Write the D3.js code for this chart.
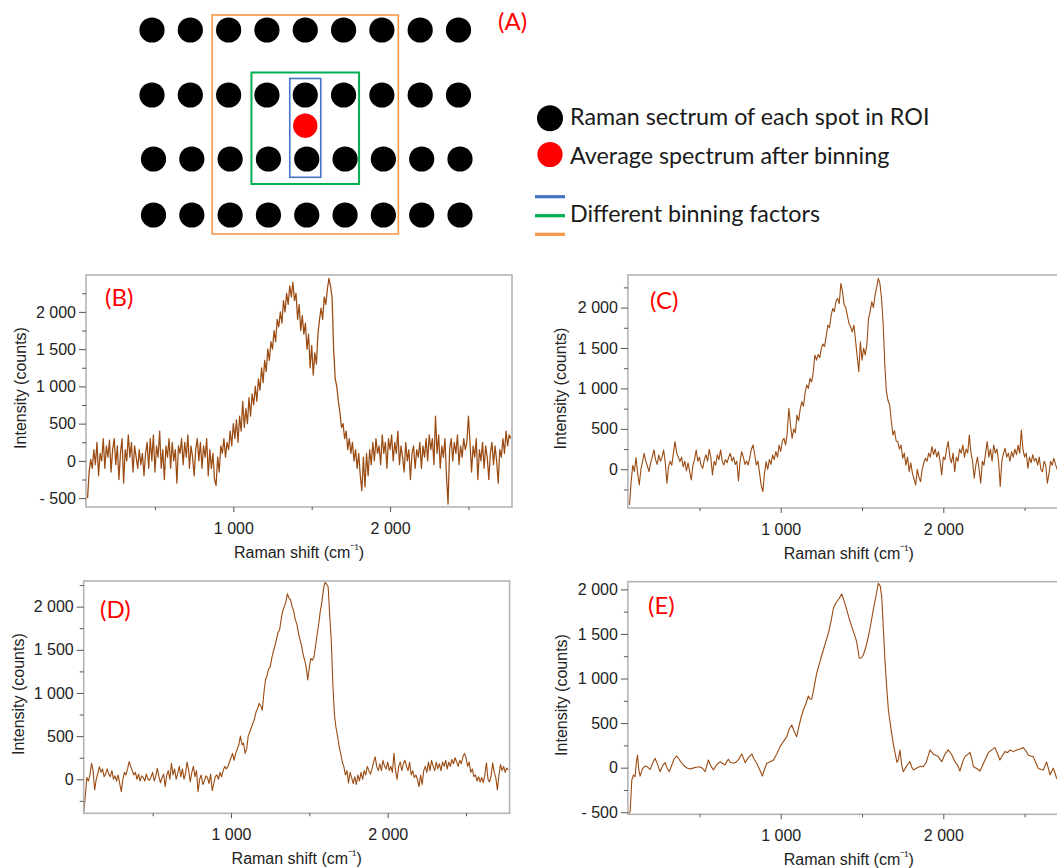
<!DOCTYPE html>
<html>
<head>
<meta charset="utf-8">
<script src="https://cdn.jsdelivr.net/npm/d3@7"></script>
<style>
  html, body { margin: 0; padding: 0; background: #fff; }
  svg { display: block; }
</style>
</head>
<body>
<svg id="fig" width="1057" height="868"></svg>
<script>
// ---------- Spectra: Raman intensity (counts) sampled on a regular shift grid ----------
// Binning factor 1 (single spot), start 70 cm-1, step 10 cm-1
const countsB = [
  -500,-150,20,-100,150,-50,250,-200,100,0,
  300,-100,200,50,280,-150,150,300,-50,200,
  -250,100,300,-300,150,0,350,50,250,-150,
  200,50,-100,150,-50,100,-200,100,250,-100,
  300,0,350,-150,200,50,400,-100,150,-250,
  200,50,300,-100,250,0,150,-300,200,100,
  300,-50,250,50,350,-100,200,50,-200,150,
  300,0,250,-100,200,50,300,-200,150,-100,
  100,-250,-330,50,-150,200,100,300,50,250,
  150,400,200,500,300,550,250,600,400,800,
  450,700,500,850,600,900,750,1000,800,1100,
  950,1250,1050,1350,1200,1500,1350,1600,1500,1750,
  1600,1900,1800,2000,1850,2150,2000,2250,2100,2350,
  2200,2400,2150,2250,1900,2100,1750,1950,1700,1850,
  1500,1700,1250,1550,1150,1450,1300,1700,1900,2050,
  1900,2200,2100,2300,2450,2350,2200,1500,1100,1000,
  800,650,450,500,300,400,150,300,100,250,
  0,150,-100,100,-200,-400,50,-350,100,-200,
  150,-50,250,0,300,100,200,-50,350,100,
  250,-100,300,150,350,0,250,100,400,-50,
  200,50,-150,250,0,150,-250,100,200,-100,
  150,50,250,-100,200,50,300,0,350,150,
  300,-50,600,100,350,-100,200,50,300,-200,
  -580,150,300,0,250,100,350,-50,200,50,
  300,150,250,600,250,-150,200,50,300,-250,
  150,0,250,-100,200,50,-250,100,250,-50,
  200,0,-300,150,50,300,100,400,200,350,300
];

// Small binning window, start 70 cm-1, step 10 cm-1
const countsC = [
  -440,-150,50,-30,144,-50,-194,0,95,198,
  100,40,-29,80,150,239,120,60,177,100,
  150,239,80,-173,30,100,50,200,342,200,
  150,95,150,30,100,-20,80,-30,-132,50,
  120,239,100,150,50,12,120,180,100,247,
  150,-70,100,50,180,120,239,100,54,120,
  80,150,198,100,150,60,100,-144,100,218,
  150,60,100,54,150,250,300,180,54,100,
  -50,-200,-276,-50,95,0,120,60,177,120,
  220,150,300,220,350,383,300,450,754,550,
  383,500,450,671,600,750,836,780,950,1042,
  1000,1124,1080,1200,1413,1350,1420,1380,1495,1550,
  1520,1650,1784,1750,1900,1990,1950,2080,2113,2050,
  2299,2200,2031,2000,1900,1800,1763,1700,1784,1600,
  1400,1207,1578,1350,1500,1413,1550,1866,1950,2072,
  2000,2150,2250,2361,2300,2113,1800,1300,960,850,
  795,600,424,480,350,342,250,300,136,200,
  50,150,-29,80,-50,-120,-194,0,-100,-152,
  0,80,136,100,200,150,280,180,250,150,
  218,100,-70,150,120,250,342,150,80,200,
  -29,150,100,250,200,300,150,250,200,424,
  200,100,-111,50,150,0,-173,100,50,200,
  342,150,250,100,300,200,250,100,-214,100,
  200,260,150,200,100,218,150,250,180,300,
  200,486,250,150,200,12,150,80,180,100,
  136,50,150,0,-29,100,50,-173,-50,100,
  50,136,60,0,80,0
];

// Medium binning window, start 60 cm-1, step 10 cm-1
const countsD = [
  -390,-200,20,-20,50,185,100,-123,0,70,
  146,80,120,30,60,120,60,30,100,0,
  40,-20,50,-50,-143,0,80,50,120,205,
  150,100,50,80,0,60,-20,40,20,-20,
  60,0,-10,30,80,-20,40,127,30,-40,
  20,60,-85,50,100,0,185,50,120,0,
  70,150,30,120,0,70,200,100,-30,80,
  150,30,100,-143,0,50,-60,-20,40,20,
  -50,60,-130,-50,30,50,0,80,30,100,
  150,120,146,200,250,300,220,300,350,400,
  500,400,420,300,350,500,550,600,650,700,
  780,820,880,850,800,1000,1150,1200,1280,1300,
  1400,1480,1540,1620,1700,1730,1850,1950,2000,2050,
  2150,2100,2080,2000,1950,1850,1800,1700,1620,1550,
  1450,1380,1300,1150,1300,1400,1380,1420,1550,1680,
  1800,1950,2050,2200,2280,2260,2230,1900,1600,1100,
  750,600,500,380,300,200,150,50,100,-46,
  80,20,-50,30,-60,50,-20,80,0,100,
  50,150,100,60,120,200,260,150,100,180,
  100,220,150,120,200,100,150,80,300,100,
  0,150,200,100,180,220,150,100,200,50,
  100,20,50,0,-85,50,-60,100,150,80,
  200,100,220,150,100,200,120,180,100,200,
  150,220,120,200,150,230,180,250,200,150,
  220,180,260,300,250,150,200,80,120,30,
  50,-20,30,-30,20,-40,50,190,0,-30,
  40,190,80,20,-123,50,170,100,150,80,130,110
];

// Largest binning window, read point by point
const shiftE = [
  63,74,84,94,104,112,119,127,135,150,166,180,197,212,227,242,258,273,289,300,
  315,330,345,361,380,401,420,442,460,480,504,520,535,545,555,570,586,605,627,640,
  658,668,678,690,709,725,740,760,770,781,800,822,835,852,870,887,900,914,930,955,
  975,996,1015,1037,1052,1068,1080,1098,1110,1125,1139,1155,1170,1180,1190,1205,1221,1240,1262,1278,
  1293,1310,1324,1340,1360,1375,1390,1406,1420,1437,1452,1467,1483,1495,1508,1523,1539,1555,1569,1585,
  1600,1612,1621,1630,1641,1650,1662,1677,1692,1705,1715,1723,1733,1745,1754,1775,1795,1805,1816,1840,
  1860,1877,1895,1918,1940,1969,1990,2010,2031,2050,2072,2090,2102,2118,2133,2150,2164,2175,2185,2205,
  2226,2250,2277,2298,2318,2335,2348,2362,2379,2395,2410,2430,2451,2470,2492,2508,2522,2538,2553,2568,
  2584,2600,2615,2635,2645,2656,2666,2676,2687,2697,2720
];
const countsE = [
  -520,-494,-138,-82,-100,60,142,-20,-94,-10,19,10,-19,50,105,40,-45,20,56,0,
  -45,30,100,131,80,30,0,-15,-5,5,11,-10,-45,20,86,20,-26,30,67,50,
  30,70,94,60,49,60,90,153,110,56,110,153,100,49,-20,-94,-20,49,60,86,
  150,236,290,348,430,479,420,348,450,560,647,720,804,770,767,900,1058,1180,1320,1420,
  1507,1650,1788,1850,1900,1949,1870,1769,1680,1582,1500,1414,1227,1230,1264,1350,1470,1620,1769,1920,
  2068,2040,1919,1600,1208,950,647,450,273,150,60,86,198,20,-45,20,67,10,-26,0,
  15,11,60,199,150,124,67,150,199,150,67,20,-37,60,124,150,172,100,11,-10,
  -37,60,168,200,225,150,86,130,180,170,199,180,199,210,225,190,142,130,124,60,
  -7,-20,-26,64,0,-82,-40,-7,-60,-119,-130
];

// Axis ticks (Raman shift in cm-1, intensity in counts)
const shiftTicksMajor = [1000, 2000];
const shiftTicksMinor = [500, 1500, 2500];
const countTicks = [-500, -250, 0, 250, 500, 750, 1000, 1250, 1500, 1750, 2000, 2250, 2500];

// ---------- Binning schematic ----------
const gridCols = [0, 1, 2, 3, 4, 5, 6, 7, 8];
const gridRows = [0, 1, 2, 3];
const binWindows = [
  { name: "large",  cols: [2, 6], rows: [0, 3], color: "#f79646" },
  { name: "medium", cols: [3, 5], rows: [1, 2], color: "#00b050" },
  { name: "small",  cols: [4, 4], rows: [1, 2], color: "#4472c4" }
];
const averagedSpot = { col: 4, row: 1.5 };
const legendItems = [
  "Raman sectrum of each spot in ROI",
  "Average spectrum after binning",
  "Different binning factors"
];

// ---------- Drawing ----------
const svg = d3.select("#fig");
const axisFont = "'Liberation Sans', Arial, sans-serif";
const labelFont = "Lato, 'Open Sans', sans-serif";
const lineColor = "#9a4b12";

const fmt = d3.formatLocale({
  decimal: ".", thousands: " ", grouping: [3], currency: ["", ""], minus: "- "
}).format(",d");

const panels = [
  { tag: "(B)", values: countsB, start: 70, step: 10, width: 1.25,
    box: { x0: 86, x1: 512, y0: 275, y1: 507 }, yDom: [-619, 2495],
    tagAt: [105, 306], ytitleX: 25.5 },
  { tag: "(C)", values: countsC, start: 70, step: 10, width: 1.1,
    box: { x0: 627.9, x1: 1069.8, y0: 275, y1: 508 }, yDom: [-479, 2403],
    tagAt: [650, 309], ytitleX: 566 },
  { tag: "(D)", values: countsD, start: 60, step: 10, width: 1.1,
    box: { x0: 83.7, x1: 509.6, y0: 581, y1: 813.3 }, yDom: [-394, 2297],
    tagAt: [100, 618], ytitleX: 24 },
  { tag: "(E)", shifts: shiftE, values: countsE, width: 1.1,
    box: { x0: 627.9, x1: 1069.8, y0: 581.7, y1: 814.3 }, yDom: [-523, 2086],
    tagAt: [648, 614], ytitleX: 566.5 }
];

const shiftDomain = [60, 2778];

panels.forEach((p, pi) => {
  const b = p.box;
  const x = d3.scaleLinear().domain(shiftDomain).range([b.x0, b.x1]);
  const y = d3.scaleLinear().domain(p.yDom).range([b.y1, b.y0]);
  const g = svg.append("g");

  const pts = p.values.map((v, i) => [p.shifts ? p.shifts[i] : p.start + i * p.step, v]);

  const clipId = "clip" + pi;
  g.append("clipPath").attr("id", clipId)
    .append("rect").attr("x", b.x0).attr("y", b.y0)
    .attr("width", b.x1 - b.x0).attr("height", b.y1 - b.y0);

  g.append("path")
    .datum(pts)
    .attr("clip-path", `url(#${clipId})`)
    .attr("fill", "none")
    .attr("stroke", lineColor)
    .attr("stroke-width", p.width)
    .attr("stroke-linejoin", "round")
    .attr("d", d3.line().x(d => x(d[0])).y(d => y(d[1])));

  // frame
  g.append("rect")
    .attr("x", b.x0).attr("y", b.y0)
    .attr("width", b.x1 - b.x0).attr("height", b.y1 - b.y0)
    .attr("fill", "none").attr("stroke", "#b4b4b4").attr("stroke-width", 1.6);

  const inY = countTicks.filter(v => v >= p.yDom[0] && v <= p.yDom[1]);
  const majY = inY.filter(v => v % 500 === 0);
  const minY = inY.filter(v => v % 500 !== 0);

  const styleAxis = sel => {
    sel.attr("font-size", 16).attr("font-family", axisFont);
    sel.select(".domain").remove();
    sel.selectAll("line").attr("stroke", "#555").attr("stroke-width", 1);
    sel.selectAll("text").attr("font-family", axisFont).attr("font-size", 16).attr("fill", "#222");
  };

  g.append("g").attr("transform", `translate(${b.x0},0)`)
    .call(d3.axisLeft(y).tickValues(minY).tickSize(4).tickFormat(""))
    .call(styleAxis);
  g.append("g").attr("transform", `translate(${b.x0},0)`)
    .call(d3.axisLeft(y).tickValues(majY).tickSize(7).tickPadding(3).tickFormat(fmt))
    .call(styleAxis);

  g.append("g").attr("transform", `translate(0,${b.y1})`)
    .call(d3.axisBottom(x).tickValues(shiftTicksMinor).tickSize(3).tickFormat(""))
    .call(styleAxis);
  g.append("g").attr("transform", `translate(0,${b.y1})`)
    .call(d3.axisBottom(x).tickValues(shiftTicksMajor).tickSize(5).tickPadding(10.6).tickFormat(fmt))
    .call(styleAxis);

  // axis titles
  const xt = g.append("text")
    .attr("x", (b.x0 + b.x1) / 2).attr("y", b.y1 + 51)
    .attr("text-anchor", "middle")
    .attr("font-family", axisFont).attr("font-size", 16).attr("fill", "#222");
  xt.append("tspan").text("Raman shift (cm");
  xt.append("tspan").text("\u207B\u00B9").attr("font-size", 13).attr("dy", -5);
  xt.append("tspan").text(")").attr("dy", 5);

  g.append("text")
    .attr("transform", `translate(${p.ytitleX},${(b.y0 + b.y1) / 2 - 3}) rotate(-90)`)
    .attr("text-anchor", "middle")
    .attr("font-family", axisFont).attr("font-size", 16).attr("fill", "#222")
    .text("Intensity (counts)");

  g.append("text")
    .attr("x", p.tagAt[0]).attr("y", p.tagAt[1])
    .attr("font-family", labelFont).attr("font-size", 24).attr("fill", "#ff0000")
    .text(p.tag);
});

// ---------- Panel (A): spot grid with binning windows ----------
const colX = d3.scalePoint().domain(gridCols).range([152, 458.5]);
const rowY = d3.scaleLinear().domain([0, 1, 2, 3]).range([30, 95, 159, 215]);
const rowShift = r => (r >= 2 ? 1.5 : 0);
const spotR = 12.6;

const ga = svg.append("g");

const pads = { large: [16.5, 15, 19], medium: [15.5, 22.5, 25], small: [15.5, 16.5, 18.3] };
binWindows.forEach(w => {
  const [px, pt, pb] = pads[w.name];
  const x0 = colX(w.cols[0]) - px, x1 = colX(w.cols[1]) + px;
  const y0 = rowY(w.rows[0]) - pt, y1 = rowY(w.rows[1]) + pb;
  ga.append("rect")
    .attr("x", x0).attr("y", y0).attr("width", x1 - x0).attr("height", y1 - y0)
    .attr("fill", "none").attr("stroke", w.color)
    .attr("stroke-width", w.name === "medium" ? 2 : 1.6);
});

const spots = [];
gridRows.forEach(r => gridCols.forEach(c => spots.push({ r, c })));
ga.selectAll("circle.spot").data(spots).join("circle")
  .attr("class", "spot")
  .attr("cx", d => colX(d.c) + rowShift(d.r))
  .attr("cy", d => rowY(d.r))
  .attr("r", spotR)
  .attr("fill", "#000");

ga.append("circle")
  .attr("cx", colX(averagedSpot.col))
  .attr("cy", rowY(averagedSpot.row) - 1.3)
  .attr("r", 12.2)
  .attr("fill", "#ff0000");

ga.append("text")
  .attr("x", 498).attr("y", 30)
  .attr("font-family", labelFont).attr("font-size", 24).attr("fill", "#ff0000")
  .text("(A)");

// legend
const lg = svg.append("g");
lg.append("circle").attr("cx", 550).attr("cy", 118.3).attr("r", 13).attr("fill", "#000");
lg.append("circle").attr("cx", 550).attr("cy", 154.5).attr("r", 12.6).attr("fill", "#ff0000");
const swatchY = [196.7, 215.7, 234.3];
const swatchColors = ["#4472c4", "#00b050", "#f79646"];
swatchY.forEach((yy, i) => {
  lg.append("line").attr("x1", 535).attr("x2", 565).attr("y1", yy).attr("y2", yy)
    .attr("stroke", swatchColors[i]).attr("stroke-width", 3.2);
});
const legendBaselines = [125, 164, 221.7];
legendItems.forEach((t, i) => {
  lg.append("text")
    .attr("x", 570).attr("y", legendBaselines[i])
    .attr("font-family", labelFont).attr("font-size", 23.3).attr("fill", "#1a1a1a")
    .text(t);
});
</script>
</body>
</html>
